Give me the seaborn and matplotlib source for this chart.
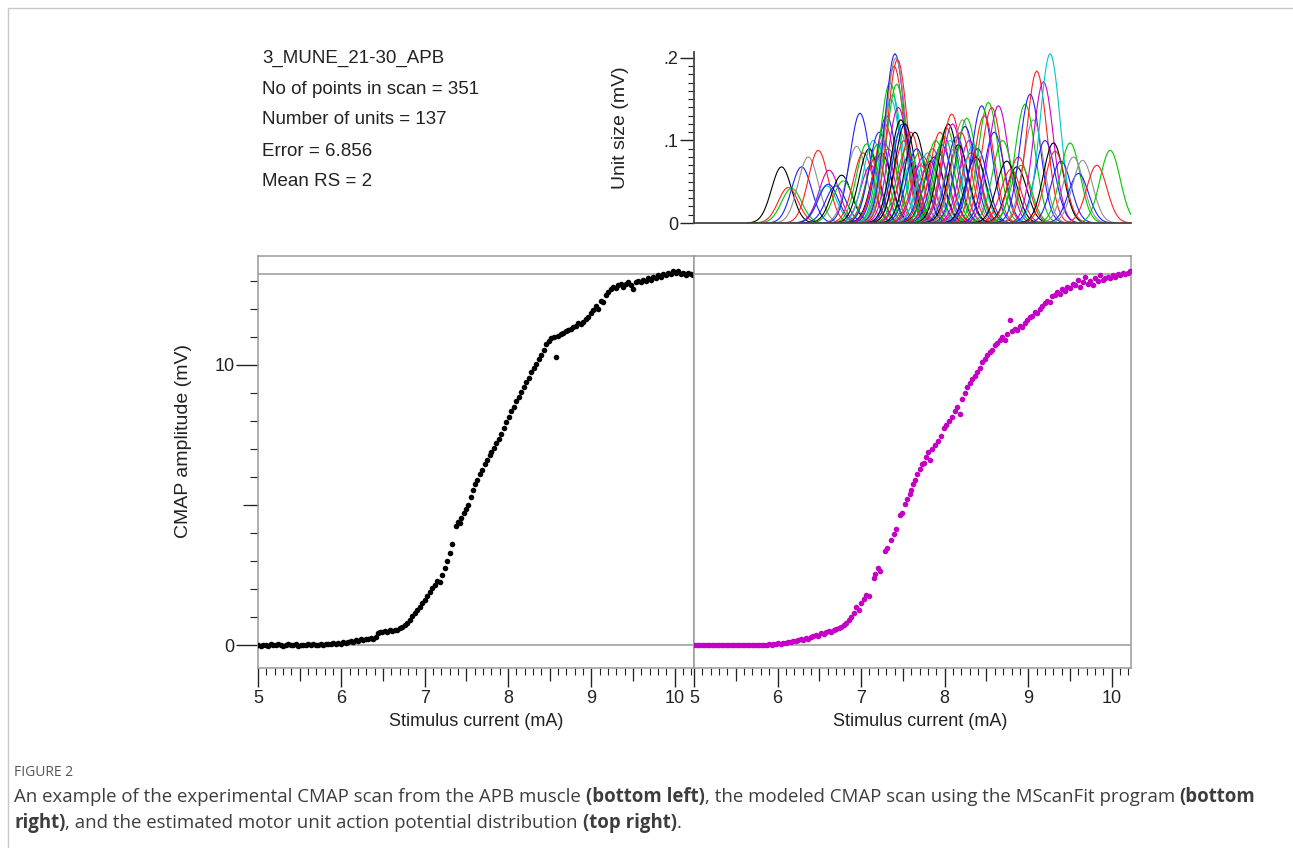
import numpy as np
import pandas as pd
import matplotlib
matplotlib.use("Agg")
import matplotlib.pyplot as plt
import seaborn as sns
from matplotlib.ticker import MultipleLocator, FixedLocator, NullLocator
from matplotlib.lines import Line2D

# ---- data ----
INFO_LINES = ["3_MUNE_21-30_APB", "No of points in scan = 351", "Number of units = 137",
              "Error = 6.856", "Mean RS = 2"]
CMAP_MAX = 13.25

# experimental scan (bottom left, black)
EXP_CURRENT = [5.00, 5.03, 5.06, 5.09, 5.12, 5.15, 5.18, 5.21, 5.24, 5.27, 5.30, 5.33, 5.36, 5.39, 5.42, 5.45, 5.48,
               5.51, 5.54, 5.57, 5.60, 5.63, 5.66, 5.69, 5.72, 5.75, 5.78, 5.81, 5.84, 5.87, 5.90, 5.93, 5.96, 5.99,
               6.02, 6.05, 6.08, 6.11, 6.14, 6.17, 6.20, 6.23, 6.26, 6.29, 6.32, 6.35, 6.38,
               6.41, 6.44, 6.46, 6.49, 6.52, 6.55, 6.58, 6.61, 6.64, 6.67, 6.70, 6.73, 6.76, 6.79,
               6.82, 6.85, 6.88, 6.91, 6.94, 6.97, 7.00, 7.03, 7.06, 7.09, 7.12, 7.15, 7.18, 7.21, 7.24, 7.27, 7.30, 7.33,
               7.38, 7.40, 7.42, 7.44, 7.47, 7.50, 7.52, 7.55, 7.58, 7.60, 7.63, 7.66, 7.69, 7.72, 7.75, 7.78, 7.80,
               7.83, 7.86, 7.89, 7.92, 7.95, 7.98, 8.01, 8.04, 8.07, 8.10, 8.13, 8.16, 8.19, 8.22, 8.25, 8.28, 8.31,
               8.34, 8.37, 8.40, 8.43, 8.46, 8.49, 8.52, 8.55, 8.58, 8.60, 8.63, 8.66, 8.69, 8.72, 8.75, 8.78, 8.81,
               8.84, 8.87, 8.90, 8.93, 8.96, 8.99, 9.02, 9.05, 9.08, 9.11, 9.14, 9.17, 9.20, 9.23, 9.26, 9.29, 9.32,
               9.35, 9.38, 9.41, 9.44, 9.47, 9.50, 9.53, 9.56, 9.59, 9.62, 9.65, 9.68, 9.71, 9.74, 9.77, 9.80, 9.83,
               9.86, 9.89, 9.92, 9.95, 9.98, 10.01, 10.04, 10.07, 10.10, 10.13, 10.16, 10.19, 10.22]
EXP_AMP = [0.00, -0.02, 0.01, 0.00, -0.03, 0.02, 0.00, -0.01, 0.03, 0.00, -0.02, 0.01, 0.02, -0.01, 0.00, 0.03, -0.02,
           0.00, 0.01, -0.01, 0.02, 0.00, 0.03, -0.01, 0.01, 0.04, 0.00, 0.02, 0.05, 0.03, 0.06, 0.04, 0.08, 0.05,
           0.10, 0.07, 0.12, 0.15, 0.12, 0.18, 0.16, 0.20, 0.17, 0.22, 0.20, 0.25, 0.23,
           0.30, 0.42, 0.48, 0.45, 0.50, 0.47, 0.52, 0.50, 0.55, 0.53, 0.60, 0.65, 0.70, 0.78,
           0.90, 1.05, 1.15, 1.25, 1.35, 1.50, 1.60, 1.75, 1.90, 2.05, 2.15, 2.30, 2.25, 2.50, 2.75, 3.00, 3.30, 3.60,
           4.25, 4.40, 4.35, 4.55, 4.70, 4.85, 5.00, 5.30, 5.55, 5.75, 5.90, 6.10, 6.25, 6.45, 6.60, 6.80, 6.90,
           7.05, 7.20, 7.35, 7.55, 7.75, 7.95, 8.15, 8.35, 8.50, 8.70, 8.85, 9.05, 9.20, 9.40, 9.55, 9.75, 9.90,
           10.05, 10.20, 10.35, 10.55, 10.75, 10.85, 10.95, 11.00, 10.30, 11.05, 11.10, 11.15, 11.20, 11.25, 11.30, 11.35, 11.40,
           11.50, 11.45, 11.55, 11.65, 11.70, 11.85, 11.95, 12.10, 12.00, 12.30, 12.25, 12.50, 12.60, 12.70, 12.80, 12.75, 12.85,
           12.90, 12.80, 12.90, 12.95, 12.85, 12.70, 12.95, 13.00, 12.95, 13.05, 13.00, 13.10, 13.05, 13.15, 13.10, 13.20, 13.15,
           13.25, 13.20, 13.30, 13.25, 13.35, 13.30, 13.35, 13.25, 13.30, 13.20, 13.30, 13.25, 13.20]

# modelled scan (bottom right, magenta)
FIT_CURRENT = [5.00, 5.03, 5.06, 5.09, 5.12, 5.15, 5.18, 5.21, 5.24, 5.27, 5.30, 5.33, 5.36, 5.39, 5.42, 5.45, 5.48,
               5.51, 5.54, 5.57, 5.60, 5.63, 5.66, 5.69, 5.72, 5.75, 5.78, 5.81, 5.84, 5.87, 5.90, 5.93, 5.95,
               5.98, 6.01, 6.04, 6.07, 6.10, 6.13, 6.16, 6.19, 6.22, 6.25, 6.28, 6.31, 6.34, 6.37, 6.40,
               6.43, 6.46, 6.49, 6.52, 6.55, 6.58, 6.61, 6.64, 6.67, 6.70, 6.73, 6.76, 6.79, 6.82, 6.85,
               6.88, 6.91, 6.94, 6.97, 7.00, 7.03, 7.06, 7.09, 7.15, 7.17, 7.20, 7.23, 7.29, 7.31, 7.36, 7.39, 7.42,
               7.46, 7.49, 7.53, 7.55, 7.58, 7.60, 7.62, 7.65, 7.67, 7.70, 7.73, 7.75, 7.78, 7.80, 7.82, 7.85, 7.88,
               7.92, 7.96, 7.99, 8.02, 8.05, 8.09, 8.12, 8.15, 8.18, 8.21, 8.24, 8.27, 8.30, 8.33, 8.36, 8.39, 8.42,
               8.45, 8.48, 8.51, 8.54, 8.57, 8.60, 8.63, 8.66, 8.69, 8.72, 8.75, 8.78, 8.81, 8.84, 8.87, 8.90, 8.93,
               8.96, 8.99, 9.02, 9.05, 9.08, 9.11, 9.14, 9.17, 9.20, 9.23, 9.26, 9.29, 9.32, 9.35, 9.38, 9.41, 9.44,
               9.47, 9.50, 9.53, 9.56, 9.59, 9.62, 9.65, 9.68, 9.71, 9.74, 9.77, 9.80, 9.83, 9.86, 9.89, 9.92, 9.95,
               9.98, 10.01, 10.04, 10.07, 10.10, 10.13, 10.16, 10.19, 10.22]
FIT_AMP = [0.00, 0.01, -0.01, 0.00, 0.01, 0.00, -0.01, 0.01, 0.00, 0.00, 0.01, -0.01, 0.00, 0.01, 0.00, -0.01, 0.00,
           0.01, 0.00, 0.00, -0.01, 0.01, 0.00, 0.01, 0.00, -0.01, 0.00, 0.01, 0.00, 0.01, 0.02, 0.01, 0.02,
           0.03, 0.06, 0.05, 0.09, 0.08, 0.12, 0.10, 0.15, 0.13, 0.18, 0.20, 0.17, 0.24, 0.22, 0.28,
           0.32, 0.36, 0.34, 0.42, 0.40, 0.47, 0.50, 0.48, 0.55, 0.58, 0.62, 0.66, 0.72, 0.78, 0.90,
           1.00, 1.15, 1.35, 1.25, 1.50, 1.65, 1.80, 1.75, 2.40, 2.55, 2.75, 2.65, 3.35, 3.45, 3.75, 3.95, 4.15,
           4.65, 4.70, 5.05, 5.20, 5.40, 5.55, 5.75, 5.90, 6.10, 6.30, 6.45, 6.50, 6.70, 6.90, 6.60, 7.00, 7.15,
           7.30, 7.45, 7.75, 7.85, 8.00, 8.15, 8.35, 8.50, 8.25, 8.80, 9.00, 9.20, 9.35, 9.50, 9.60, 9.75, 9.90,
           10.10, 10.20, 10.35, 10.45, 10.55, 10.70, 10.80, 10.90, 11.00, 10.90, 11.10, 11.60, 11.20, 11.30, 11.25, 11.40, 11.35,
           11.50, 11.60, 11.70, 11.75, 11.90, 11.85, 12.00, 12.10, 12.20, 12.30, 12.25, 12.45, 12.50, 12.60, 12.55, 12.70, 12.65,
           12.80, 12.75, 12.90, 12.85, 13.05, 12.80, 12.95, 13.15, 12.90, 13.00, 12.85, 13.10, 13.00, 13.20, 13.05, 13.10, 13.15,
           13.10, 13.20, 13.15, 13.25, 13.20, 13.30, 13.25, 13.30, 13.35]

# estimated motor units (top right): threshold centre (mA) and size (mV)
UNIT_CENTER = [6.05, 6.13, 6.17, 6.29, 6.37, 6.49, 6.59, 6.62, 6.61, 6.77, 6.79, 6.70, 6.95, 6.99, 7.07,
               7.03, 7.10, 7.12, 7.15, 7.18, 7.20, 7.22, 7.25, 7.27, 7.29, 7.31, 7.33, 7.35, 7.36, 7.38,
               7.40, 7.41, 7.42, 7.43, 7.44, 7.45, 7.47, 7.48, 7.50, 7.52, 7.53, 7.55, 7.57, 7.60, 7.62,
               7.65, 7.67, 7.70, 7.72, 7.75, 7.78, 7.80, 7.83, 7.86, 7.88, 7.90, 7.93, 7.95, 7.97, 8.00,
               8.03, 8.05, 8.07, 8.09, 8.10, 8.12, 8.15, 8.17, 8.20, 8.22, 8.25, 8.27, 8.30, 8.32, 8.35,
               8.38, 8.40, 8.45, 8.48, 8.53, 8.57, 8.60, 8.65, 8.70, 8.75, 8.80, 8.87, 8.89, 8.92, 8.97,
               9.03, 9.07, 9.11, 9.19, 9.21, 9.27, 9.31, 9.33, 9.40, 9.51, 9.55, 9.61, 9.66, 9.83, 9.99]
UNIT_SIZE = [0.068, 0.043, 0.042, 0.068, 0.080, 0.088, 0.045, 0.064, 0.047, 0.058, 0.051, 0.045, 0.093, 0.133, 0.096,
             0.085, 0.090, 0.070, 0.100, 0.080, 0.095, 0.110, 0.085, 0.100, 0.120, 0.130, 0.090, 0.170, 0.150, 0.155,
             0.190, 0.205, 0.200, 0.168, 0.198, 0.140, 0.110, 0.125, 0.120, 0.100, 0.120, 0.090, 0.080, 0.110, 0.075,
             0.110, 0.090, 0.085, 0.070, 0.080, 0.065, 0.085, 0.075, 0.090, 0.080, 0.100, 0.085, 0.110, 0.095, 0.105,
             0.115, 0.120, 0.100, 0.132, 0.120, 0.090, 0.105, 0.095, 0.110, 0.125, 0.117, 0.127, 0.100, 0.085, 0.095,
             0.080, 0.090, 0.142, 0.130, 0.146, 0.140, 0.110, 0.142, 0.100, 0.075, 0.065, 0.068, 0.080, 0.070, 0.144,
             0.156, 0.125, 0.184, 0.171, 0.100, 0.205, 0.097, 0.087, 0.075, 0.097, 0.080, 0.060, 0.076, 0.070, 0.088]
# trace colour of each unit: k black, r red, g green, b blue, a grey, m magenta, c cyan
UNIT_COLOR_CODES = ("krgbarcmbkgbabg" "rkmcrgbkmrbggcc" "rbagrmckbrkgmrc" "kbgrmacbrkgmrbg"
                    "gkcrmabkrabgmrc" "kbbrgrbmgkrkrgg" "barmbckrbgabarg")
UNIT_SIGMA = 0.12
COLOR_OF = {"k": "black", "r": "#ff2020", "g": "#00c800", "b": "#2020ff",
            "a": "#909090", "m": "#d000d0", "c": "#00c8c8"}

# ---- style ----
sns.set_style("white")
plt.rcParams["font.family"] = ["Liberation Sans", "DejaVu Sans"]
plt.rcParams["xtick.bottom"] = True
plt.rcParams["ytick.left"] = True
TXT = "#222222"
FRAME = "#9a9a9a"

W, H = 1293, 848
fig = plt.figure(figsize=(W / 100, H / 100), dpi=100)


def px_axes(x0, y0, x1, y1):
    return fig.add_axes([x0 / W, 1 - y1 / H, (x1 - x0) / W, (y1 - y0) / H])


ax_l = px_axes(258, 256, 694, 668)
ax_r = px_axes(694, 256, 1131, 668)
ax_u = px_axes(694, 52, 1131, 223)

exp_df = pd.DataFrame({"current": EXP_CURRENT, "amp": EXP_AMP})
fit_df = pd.DataFrame({"current": FIT_CURRENT, "amp": FIT_AMP})

for ax, df, col in [(ax_l, exp_df, "black"), (ax_r, fit_df, "#c400c4")]:
    ax.axhline(0, color=FRAME, lw=1.1, zorder=1)
    ax.axhline(CMAP_MAX, color=FRAME, lw=1.1, zorder=1)
    sns.scatterplot(data=df, x="current", y="amp", ax=ax, color=col, s=16,
                    linewidth=0, marker="o", zorder=3)
    ax.set_xlim(5.0, 10.23)
    ax.set_ylim(-0.82, 13.89)
    for sp in ax.spines.values():
        sp.set_color(FRAME)
        sp.set_linewidth(1.1)
    ax.set_xticks(range(5, 11))
    ax.set_xticklabels([str(v) for v in range(5, 11)])
    ax.xaxis.set_minor_locator(MultipleLocator(0.1))
    ax.tick_params(axis="x", which="major", bottom=True, direction="out", length=14, width=1,
                   color=TXT, labelcolor=TXT, labelsize=13, pad=2)
    ax.tick_params(axis="x", which="minor", bottom=True, direction="out", length=5, width=0.8, color=TXT)
    sec = ax.secondary_xaxis("bottom")
    sec.set_xticks(np.arange(5.5, 10.3, 1.0))
    sec.xaxis.set_minor_locator(NullLocator())
    sec.tick_params(length=9, width=0.9, color=TXT, labelbottom=False)
    sec.spines["bottom"].set_visible(False)
    ax.set_xlabel("Stimulus current (mA)", fontsize=13, color=TXT, va="center")
    ax.set_ylabel("")

ax_l.xaxis.set_label_coords(0.5, -0.131)
ax_r.xaxis.set_label_coords(0.517, -0.131)

ax_l.yaxis.set_major_locator(FixedLocator([0, 10]))
ax_l.yaxis.set_minor_locator(MultipleLocator(1))
ax_l.tick_params(axis="y", which="major", left=True, direction="out", length=16, width=1,
                 color=TXT, labelcolor=TXT, labelsize=13, pad=1)
ax_l.tick_params(axis="y", which="minor", left=True, direction="out", length=6, width=0.8, color=TXT)
sec_y = ax_l.secondary_yaxis("left")
sec_y.set_yticks([5])
sec_y.yaxis.set_minor_locator(NullLocator())
sec_y.tick_params(length=11, width=0.9, color=TXT, labelleft=False)
sec_y.spines["left"].set_visible(False)
ax_l.set_ylabel("CMAP amplitude (mV)", fontsize=14, color=TXT, va="center")
ax_l.yaxis.set_label_coords(-0.172, 0.55)

ax_r.tick_params(axis="y", which="both", left=False, labelleft=False)

# unit size distribution
rows = []
for i, (c, a) in enumerate(zip(UNIT_CENTER, UNIT_SIZE)):
    xs = np.linspace(c - 3.5 * UNIT_SIGMA, min(c + 3.5 * UNIT_SIGMA, 10.24), 45)
    ys = a * np.exp(-0.5 * ((xs - c) / UNIT_SIGMA) ** 2)
    for xv, yv in zip(xs, ys):
        rows.append((f"u{i:03d}", xv, yv))
unit_df = pd.DataFrame(rows, columns=["unit", "current", "size"])
palette = {f"u{i:03d}": COLOR_OF[UNIT_COLOR_CODES[i]] for i in range(len(UNIT_CENTER))}
sns.lineplot(data=unit_df, x="current", y="size", hue="unit", palette=palette, legend=False,
             estimator=None, sort=False, lw=0.8, ax=ax_u)
ax_u.set_xlim(5.0, 10.24)
ax_u.set_ylim(0, 0.207)
for side in ["top", "right"]:
    ax_u.spines[side].set_visible(False)
for side in ["left", "bottom"]:
    ax_u.spines[side].set_color("#444444")
    ax_u.spines[side].set_linewidth(1.3)
ax_u.set_yticks([0, 0.1, 0.2])
ax_u.set_yticklabels(["0", ".1", ".2"])
ax_u.yaxis.set_minor_locator(MultipleLocator(0.01))
ax_u.tick_params(axis="y", which="major", left=True, direction="out", length=10, width=1,
                 color=TXT, labelcolor=TXT, labelsize=13, pad=1)
ax_u.tick_params(axis="y", which="minor", left=True, direction="out", length=4, width=0.8, color=TXT)
ax_u.tick_params(axis="x", which="both", bottom=False, labelbottom=False)
ax_u.set_xlabel("")
ax_u.set_ylabel("Unit size (mV)", fontsize=14, color=TXT, va="center")
ax_u.yaxis.set_label_coords(-0.169, 0.556)

# info text block
for k, line in enumerate(INFO_LINES):
    fig.text(262 / W, 1 - (58 + 31 * k) / H, line, fontsize=13.5, color=TXT, va="center", ha="left")

# outer frame
fig.add_artist(Line2D([8 / W, 8 / W], [0, 1 - 8 / H], transform=fig.transFigure, color="#c8c8c8", lw=1))
fig.add_artist(Line2D([8 / W, 1], [1 - 8 / H, 1 - 8 / H], transform=fig.transFigure, color="#c8c8c8", lw=1))

# caption
CAP_FONT = ["Open Sans", "DejaVu Sans"]
CAP_SIZE = 13.4
CAP_COLOR = "#3d3d3d"
fig.text(14 / W, 1 - 772 / H, "FIGURE 2", fontsize=10, color="#555555", family=CAP_FONT,
         va="center", ha="left")

renderer = fig.canvas.get_renderer()


def text_width(s, weight):
    t = fig.text(0, 0, s, fontsize=CAP_SIZE, family=CAP_FONT, fontweight=weight)
    w = t.get_window_extent(renderer).width
    t.remove()
    return w


space_w = text_width("n n", "normal") - text_width("nn", "normal")


def rich_line(x_px, y_px, pieces):
    x = x_px
    for txt, bold, gap in pieces:
        if gap:
            x += space_w
        t = fig.text(x / W, 1 - y_px / H, txt, fontsize=CAP_SIZE, family=CAP_FONT,
                     fontweight="bold" if bold else "normal", color=CAP_COLOR,
                     va="center", ha="left")
        x = t.get_window_extent(renderer).x1


rich_line(14, 797, [
    ("An example of the experimental CMAP scan from the APB muscle", False, False),
    ("(bottom left)", True, True),
    (", the modeled CMAP scan using the MScanFit program", False, False),
    ("(bottom", True, True),
])
rich_line(14, 823, [
    ("right)", True, False),
    (", and the estimated motor unit action potential distribution", False, False),
    ("(top right)", True, True),
    (".", False, False),
])

fig.savefig("out.png", dpi=100)
